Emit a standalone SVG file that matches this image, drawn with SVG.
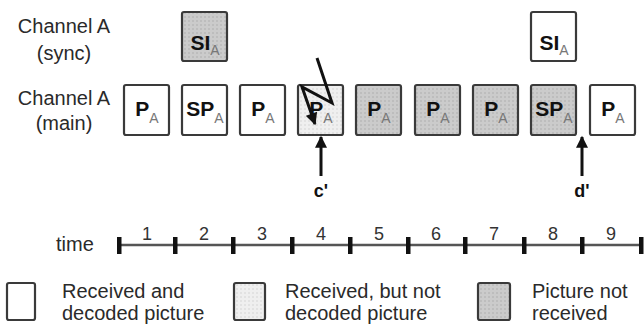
<svg xmlns="http://www.w3.org/2000/svg" width="644" height="331" viewBox="0 0 644 331">
<defs>
<marker id="ah" viewBox="0 0 10 10" refX="9" refY="5" markerWidth="4.5" markerHeight="4" orient="auto" markerUnits="strokeWidth">
<path d="M0,0 L10,5 L0,10 z" fill="#111"/>
</marker>
<pattern id="dots" width="4" height="4" patternUnits="userSpaceOnUse">
<rect width="4" height="4" fill="#cbcbcb"/>
<rect width="2" height="2" fill="#bdbdbd"/>
</pattern>
<pattern id="ldots" width="4" height="4" patternUnits="userSpaceOnUse">
<rect width="4" height="4" fill="#efefef"/>
<rect width="2" height="2" fill="#e2e2e2"/>
</pattern>
</defs>
<style>
text{font-family:"Liberation Sans",Arial,sans-serif;fill:#2a2a2a}
.lbl{font-size:20px}
.box{stroke:#3a3a3a;stroke-width:2.2;fill:#fff}
.nr{fill:url(#dots)}
.nd{fill:url(#ldots)}
.bt{font-size:21px;font-weight:bold;fill:#111;text-anchor:middle}
.sub{font-size:14px;font-weight:normal;fill:#777}
.num{font-size:18px;text-anchor:middle;fill:#333}
.cl{font-size:18px;font-weight:bold;text-anchor:middle;fill:#111}
.ln{stroke:#111;stroke-width:3;fill:none}
.tick{fill:#111}
</style>
<rect width="644" height="331" fill="#fff"/>

<g id="labels">
<text class="lbl" x="64" y="33" text-anchor="middle">Channel A</text>
<text class="lbl" x="64" y="60" text-anchor="middle">(sync)</text>
<text class="lbl" x="64" y="105" text-anchor="middle">Channel A</text>
<text class="lbl" x="64" y="130" text-anchor="middle">(main)</text>
</g>

<g id="sync1"><rect class="box nr" x="182" y="12" width="45" height="49" rx="2"/><text class="bt" x="205" y="50">SI<tspan class="sub" dy="5">A</tspan></text></g>
<g id="sync2"><rect class="box" x="531" y="12" width="45" height="49" rx="2"/><text class="bt" x="554" y="50">SI<tspan class="sub" dy="5">A</tspan></text></g>

<g id="m1"><rect class="box" x="124" y="85" width="45" height="50" rx="2"/><text class="bt" x="147" y="116">P<tspan class="sub" dy="7">A</tspan></text></g>
<g id="m2"><rect class="box" x="182" y="85" width="45" height="50" rx="2"/><text class="bt" x="205" y="116">SP<tspan class="sub" dy="7">A</tspan></text></g>
<g id="m3"><rect class="box" x="240" y="85" width="45" height="50" rx="2"/><text class="bt" x="263" y="116">P<tspan class="sub" dy="7">A</tspan></text></g>
<g id="m4"><rect class="box nd" x="298" y="85" width="45" height="50" rx="2"/><text class="bt" x="321" y="116">P<tspan class="sub" dy="7">A</tspan></text></g>
<g id="m5"><rect class="box nr" x="356" y="85" width="45" height="50" rx="2"/><text class="bt" x="379" y="116">P<tspan class="sub" dy="7">A</tspan></text></g>
<g id="m6"><rect class="box nr" x="415" y="85" width="45" height="50" rx="2"/><text class="bt" x="438" y="116">P<tspan class="sub" dy="7">A</tspan></text></g>
<g id="m7"><rect class="box nr" x="473" y="85" width="45" height="50" rx="2"/><text class="bt" x="496" y="116">P<tspan class="sub" dy="7">A</tspan></text></g>
<g id="m8"><rect class="box nr" x="531" y="85" width="45" height="50" rx="2"/><text class="bt" x="554" y="116">SP<tspan class="sub" dy="7">A</tspan></text></g>
<g id="m9"><rect class="box" x="590" y="85" width="45" height="50" rx="2"/><text class="bt" x="613" y="116">P<tspan class="sub" dy="7">A</tspan></text></g>

<g id="connectors">
<polyline class="ln" points="317,58 332,103 302,87 315,124" marker-end="url(#ah)"/>
<line class="ln" x1="321" y1="176" x2="321" y2="137" marker-end="url(#ah)"/>
<line class="ln" x1="582" y1="176" x2="582" y2="137" marker-end="url(#ah)"/>
</g>
<g id="clabels">
<text class="cl" x="321" y="197">c'</text>
<text class="cl" x="582" y="197">d'</text>
</g>

<g id="timeline">
<text class="lbl" x="56" y="251">time</text>
<line x1="119" y1="245" x2="641" y2="245" stroke="#555" stroke-width="2.5"/>
<rect class="tick" x="117" y="237" width="4.5" height="17"/>
<rect class="tick" x="173" y="237" width="4.5" height="17"/>
<rect class="tick" x="231" y="237" width="4.5" height="17"/>
<rect class="tick" x="290" y="237" width="4.5" height="17"/>
<rect class="tick" x="348" y="237" width="4.5" height="17"/>
<rect class="tick" x="406" y="237" width="4.5" height="17"/>
<rect class="tick" x="463" y="237" width="4.5" height="17"/>
<rect class="tick" x="522" y="237" width="4.5" height="17"/>
<rect class="tick" x="580" y="237" width="4.5" height="17"/>
<rect class="tick" x="639" y="237" width="4.5" height="17"/>
<text class="num" x="147" y="240">1</text>
<text class="num" x="204" y="240">2</text>
<text class="num" x="262" y="240">3</text>
<text class="num" x="321" y="240">4</text>
<text class="num" x="379" y="240">5</text>
<text class="num" x="436" y="240">6</text>
<text class="num" x="494" y="240">7</text>
<text class="num" x="553" y="240">8</text>
<text class="num" x="611" y="240">9</text>
</g>

<g id="legend1"><rect class="box" x="7" y="283" width="28" height="37" rx="2"/><text class="lbl" x="62" y="298">Received and</text><text class="lbl" x="62" y="320">decoded picture</text></g>
<g id="legend2"><rect class="box nd" x="234" y="283" width="31" height="37" rx="2"/><text class="lbl" x="285" y="298">Received, but not</text><text class="lbl" x="285" y="320">decoded picture</text></g>
<g id="legend3"><rect class="box nr" x="478" y="283" width="32" height="37" rx="2"/><text class="lbl" x="532" y="298">Picture not</text><text class="lbl" x="532" y="320">received</text></g>
</svg>
